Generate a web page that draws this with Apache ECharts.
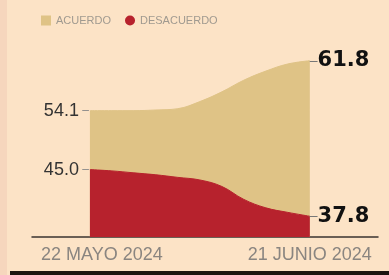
<!DOCTYPE html>
<html>
<head>
<meta charset="utf-8">
<script src="https://cdn.jsdelivr.net/npm/echarts@6/dist/echarts.min.js"></script>
<style>
  html, body { margin: 0; padding: 0; background: #fce3c6; }
  #chart { width: 389px; height: 275px; }
</style>
</head>
<body>
<div id="chart"></div>
<script>
// days since 22 May 2024
const days = [0, 3, 6, 9, 12, 15, 18, 21, 24, 27, 30]
const acuerdo = [54.1, 54.1, 54.1, 54.2, 54.4, 55.5, 57.0, 58.8, 60.2, 61.3, 61.8]
const desacuerdo = [45.0, 44.8, 44.5, 44.2, 43.8, 43.4, 42.4, 40.4, 39.1, 38.4, 37.8]
const seriesNames = ['ACUERDO', 'DESACUERDO']
const tickDays = [0, 30]
const tickLabels = ['22 MAYO 2024', '21 JUNIO 2024']

const chart = echarts.init(document.getElementById('chart'))

const toData = (vals) =>
  vals.map((v, i) =>
    i === 0 ? { value: [days[i], v], label: { show: true } } : [days[i], v]
  )

const startLabel = {
  position: 'left',
  distance: 1,
  formatter: (p) => '{v|' + p.value[1].toFixed(1) + '}{d| –}',
  rich: {
    v: { fontFamily: 'Liberation Sans', fontSize: 18, color: '#333' },
    d: { fontFamily: 'Liberation Sans', fontSize: 12, color: '#888' },
  },
}

const endLabel = {
  show: true,
  distance: 0,
  formatter: (p) => '{d|–}{v|' + p.value[1].toFixed(1) + '}',
  rich: {
    v: { fontFamily: 'DejaVu Sans', fontSize: 21, fontWeight: 'bold', color: '#111' },
    d: { fontFamily: 'Liberation Sans', fontSize: 14, color: '#777' },
  },
}

const option = {
  backgroundColor: '#fce3c6',
  animation: false,
  graphic: [
    { type: 'rect', left: 0, top: 0, shape: { width: 7, height: 275 }, style: { fill: '#f6d6bd' } },
    { type: 'rect', left: 10, top: 271, shape: { width: 379, height: 4 }, style: { fill: '#1b1410' } },
  ],
  legend: {
    left: 36,
    top: 10,
    itemWidth: 10,
    itemHeight: 10,
    itemGap: 14,
    textStyle: { fontFamily: 'Liberation Sans', fontSize: 11, color: '#a09a90' },
    data: [
      { name: seriesNames[0], icon: 'rect' },
      { name: seriesNames[1], icon: 'circle' },
    ],
  },
  grid: { left: 32, right: 11, top: 40, bottom: 38 },
  xAxis: {
    type: 'value',
    min: -7.9,
    max: 39.3,
    splitLine: { show: false },
    axisLine: { show: true, lineStyle: { color: '#3a3430', width: 1.5 } },
    axisTick: { show: false },
    axisLabel: {
      customValues: tickDays,
      margin: 9,
      formatter: (v) => {
        const i = tickDays.indexOf(v)
        return i === 0 ? '{a|' + tickLabels[i] + '}' : '{b|' + tickLabels[i] + '}'
      },
      rich: {
        a: { fontFamily: 'Liberation Sans', fontSize: 18, color: '#8a8580', padding: [0, 0, 0, 24] },
        b: { fontFamily: 'Liberation Sans', fontSize: 18, color: '#8a8580' },
      },
    },
  },
  yAxis: {
    type: 'value',
    min: 34.6,
    max: 65,
    show: false,
    splitLine: { show: false },
  },
  series: [
    {
      name: seriesNames[0],
      type: 'line',
      smooth: 0.4,
      symbol: 'circle',
      symbolSize: 0,
      showSymbol: true,
      color: '#dfc386',
      lineStyle: { width: 1, color: '#dfc386' },
      areaStyle: { color: '#dfc386', opacity: 1, origin: 'start' },
      label: startLabel,
      endLabel: endLabel,
      data: toData(acuerdo),
    },
    {
      name: seriesNames[1],
      type: 'line',
      smooth: 0.4,
      symbol: 'circle',
      symbolSize: 0,
      showSymbol: true,
      color: '#b7222d',
      lineStyle: { width: 1, color: '#b7222d' },
      areaStyle: { color: '#b7222d', opacity: 1, origin: 'start' },
      label: startLabel,
      endLabel: endLabel,
      data: toData(desacuerdo),
    },
  ],
}

chart.setOption(option)
</script>
</body>
</html>
